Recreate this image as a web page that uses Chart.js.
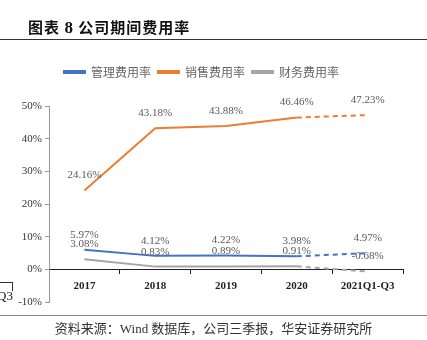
<!DOCTYPE html>
<html>
<head>
<meta charset="utf-8">
<script src="https://cdn.jsdelivr.net/npm/chart.js@4.4.0/dist/chart.umd.min.js"></script>
<style>
  html, body { margin: 0; padding: 0; background: #fff; }
  #wrap { position: relative; width: 427px; height: 340px; overflow: hidden; }
  #chart { position: absolute; left: 0; top: 0; }
  .title { position: absolute; left: 28px; top: 16px; font: bold 15px "Noto Sans CJK SC", sans-serif; color: #111; letter-spacing: 1px; white-space: nowrap; }
  .title b { font-family: "Liberation Serif", serif; font-size: 17px; }
  .rule-top { position: absolute; left: 0; top: 39px; width: 427px; height: 1px; background: #333; }
  .rule-bottom { position: absolute; left: 0; top: 315px; width: 427px; height: 1px; background: #888; }
  .source { position: absolute; left: 0; top: 318px; width: 427px; text-align: center; font: 13px "Noto Sans CJK SC", sans-serif; color: #333; white-space: nowrap; }
  .source span { font-family: "Liberation Serif", serif; }
  .stub { position: absolute; left: -3px; top: 288px; font: 13px "Liberation Serif", serif; color: #111; }
  .stub-line { position: absolute; left: 0; top: 282px; width: 12px; height: 8px; border-top: 1px solid #333; border-right: 1px solid #333; }
</style>
</head>
<body>
<div id="wrap">
  <canvas id="chart" width="427" height="340"></canvas>
  <div class="title">图表 <b>8</b> 公司期间费用率</div>
  <div class="rule-top"></div>
  <div class="stub-line"></div>
  <div class="stub">Q3</div>
  <div class="rule-bottom"></div>
  <div class="source">资料来源：<span>Wind</span> 数据库，公司三季报，华安证券研究所</div>
</div>
<script>
// Periods on the x axis
const periods = ['2017', '2018', '2019', '2020', '2021Q1-Q3'];
// Expense ratios (%)
const adminRate = [5.97, 4.12, 4.22, 3.98, 4.97];     // 管理费用率
const sellingRate = [24.16, 43.18, 43.88, 46.46, 47.23]; // 销售费用率
const financeRate = [3.08, 0.83, 0.89, 0.91, -0.68];   // 财务费用率
// Y axis range and step (%)
const yMin = -10, yMax = 50, yStep = 10;

const seriesColors = ['#4472C4', '#ED7D31', '#A5A5A5'];

// Last segment (into the partial year) is drawn dashed
const dashLast = ctx => ctx.p1DataIndex === periods.length - 1 ? [5, 4] : undefined;

function makeSet(label, data, color) {
  return {
    label, data,
    borderColor: color,
    backgroundColor: color,
    borderWidth: 2,
    pointRadius: 0,
    tension: 0,
    segment: { borderDash: dashLast }
  };
}

// Writes each point's value above it
const valueLabels = {
  id: 'valueLabels',
  afterDatasetsDraw(chart) {
    const ctx = chart.ctx;
    ctx.save();
    ctx.font = '11px "Liberation Serif", serif';
    ctx.fillStyle = '#595959';
    ctx.textAlign = 'center';
    ctx.textBaseline = 'middle';
    chart.data.datasets.forEach((ds, i) => {
      const meta = chart.getDatasetMeta(i);
      meta.data.forEach((pt, j) => {
        ctx.fillText(ds.data[j].toFixed(2) + '%', pt.x, pt.y - 15);
      });
    });
    ctx.restore();
  }
};

// Leaves extra room between the legend and the plot
const legendGap = {
  id: 'legendGap',
  beforeLayout(chart) {
    const lg = chart.legend;
    if (lg && !lg._gapPatched) {
      const fit = lg.fit;
      lg.fit = function () { fit.call(this); this.height += 18; };
      lg._gapPatched = true;
    }
  }
};

new Chart(document.getElementById('chart'), {
  type: 'line',
  data: {
    labels: periods,
    datasets: [
      makeSet('管理费用率', adminRate, seriesColors[0]),
      makeSet('销售费用率', sellingRate, seriesColors[1]),
      makeSet('财务费用率', financeRate, seriesColors[2])
    ]
  },
  options: {
    responsive: false,
    animation: false,
    layout: { padding: { top: 59, right: 24, bottom: 38, left: 0 } },
    plugins: {
      legend: {
        position: 'top',
        labels: {
          boxWidth: 21,
          boxHeight: 2,
          padding: 7,
          color: '#666',
          font: { family: '"Noto Sans CJK SC", sans-serif', size: 12 }
        }
      },
      tooltip: { enabled: false }
    },
    scales: {
      x: {
        position: { y: 0 },
        offset: true,
        grid: { offset: true, drawOnChartArea: false, tickLength: 4, color: '#222' },
        border: { color: '#222', width: 1 },
        ticks: { color: '#222', font: { family: '"Liberation Serif", serif', size: 11, weight: 'bold' }, padding: 6 }
      },
      y: {
        min: yMin, max: yMax,
        grid: { drawOnChartArea: false, tickLength: 4, color: '#999' },
        border: { color: '#999' },
        ticks: {
          stepSize: yStep,
          color: '#333',
          font: { family: '"Liberation Serif", serif', size: 11 },
          callback: v => v + '%'
        },
        afterFit: s => { s.width = 49; }
      }
    }
  },
  plugins: [valueLabels, legendGap]
});
</script>
</body>
</html>
